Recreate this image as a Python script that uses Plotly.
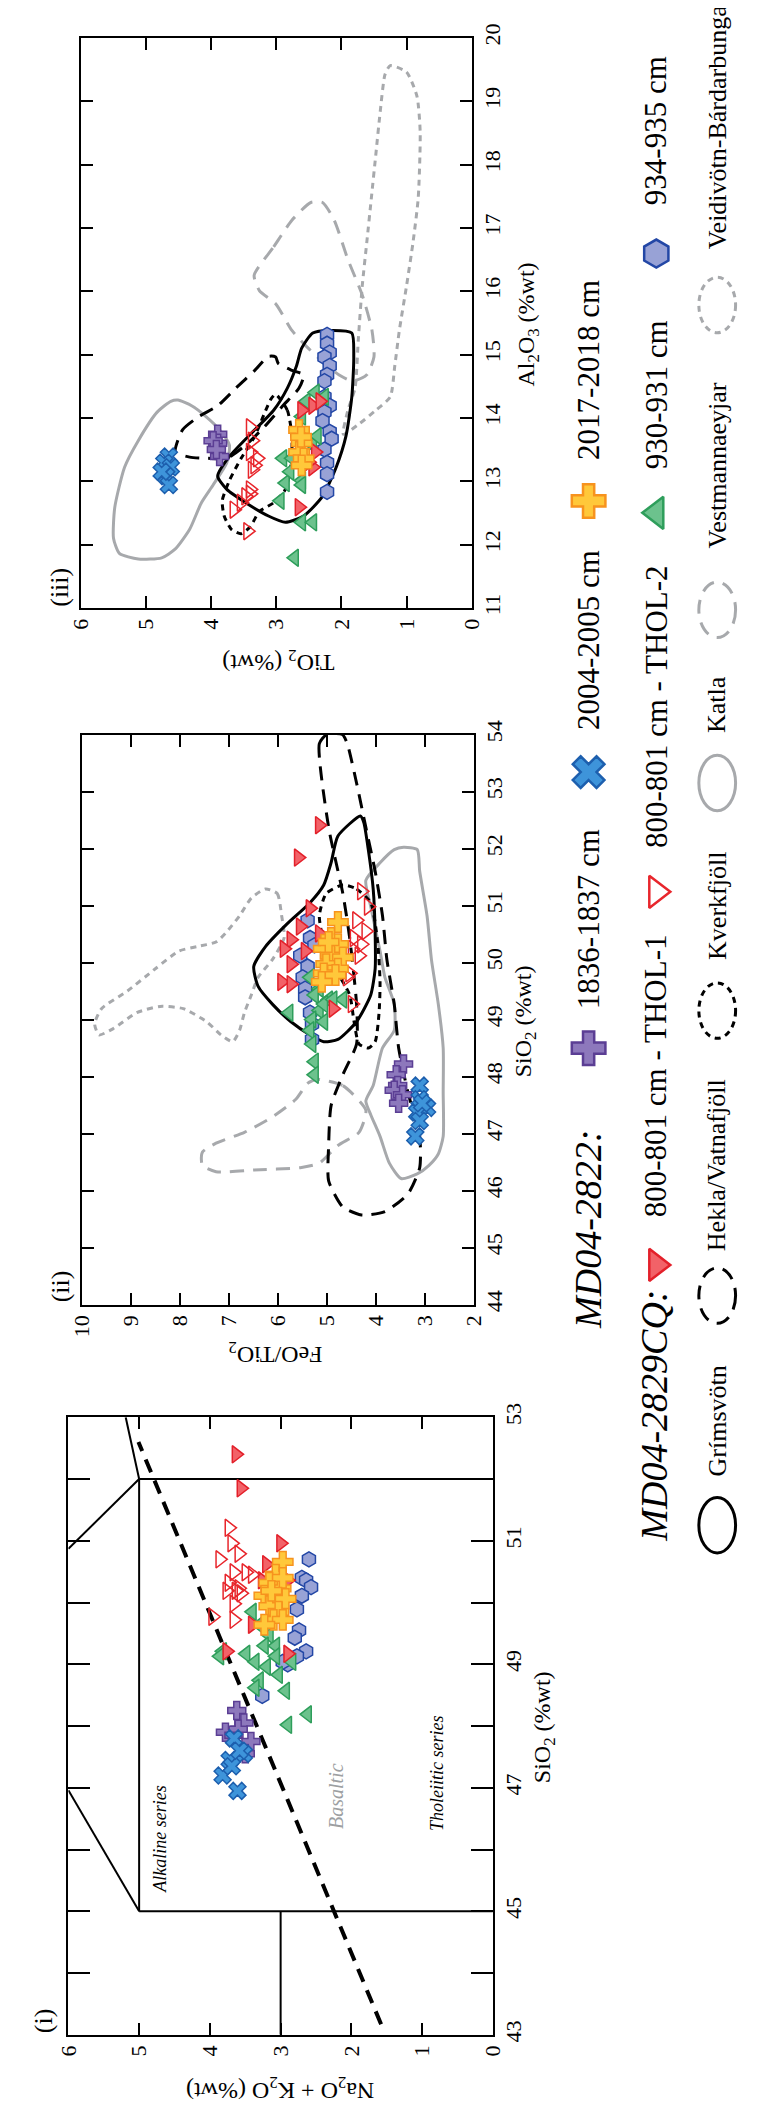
import plotly.graph_objects as go

W, H = 757, 2112
SERIF = "Liberation Serif"

# ---------------- Panel (i): SiO2 vs Na2O+K2O ----------------
p1_1836_si = [48.25, 48.05, 47.9, 47.85, 47.75, 47.55, 47.95]
p1_1836_alk = [3.62, 3.52, 3.78, 3.66, 3.42, 3.5, 3.6]
p1_2004_si = [47.8, 47.45, 47.55, 47.2, 47.35, 46.95, 47.6]
p1_2004_alk = [3.66, 3.72, 3.52, 3.82, 3.69, 3.61, 3.58]
p1_thol1_si = [52.4, 51.85, 50.96, 50.62, 50.36, 50.36, 49.64, 49.17, 49.21]
p1_thol1_alk = [3.63, 3.56, 3.0, 3.2, 2.9, 3.26, 3.4, 2.9, 3.76]
p1_thol2_si = [51.21, 50.96, 50.79, 50.70, 50.49, 50.49, 50.45, 50.32, 50.23, 50.19, 50.19, 50.15, 49.98, 49.77, 49.72]
p1_thol2_alk = [3.73, 3.69, 3.59, 3.86, 3.66, 3.49, 3.40, 3.73, 3.59, 3.76, 3.63, 3.56, 3.66, 3.96, 3.66]
p1_930_si = [49.85, 49.64, 49.47, 49.30, 49.21, 49.17, 49.04, 48.96, 48.83, 49.04, 48.74, 48.62, 48.57, 48.02, 48.19, 49.13, 49.30, 49.13]
p1_930_alk = [3.4, 3.30, 3.16, 3.07, 3.82, 3.49, 3.36, 3.20, 3.03, 2.84, 3.30, 3.36, 2.93, 2.90, 2.62, 3.86, 3.23, 3.07]
p1_2017_si = [50.66, 50.45, 50.32, 50.23, 50.11, 50.06, 50.06, 49.94, 49.85, 49.72, 49.72, 49.64, 50.40, 50.19]
p1_2017_alk = [2.97, 3.07, 3.16, 3.0, 3.23, 3.07, 2.93, 3.16, 3.03, 3.10, 2.97, 3.23, 2.97, 3.13]
p1_934_si = [50.70, 50.40, 50.36, 50.25, 50.11, 49.89, 49.55, 49.43, 49.21, 49.13, 49.0, 48.49, 49.04]
p1_934_alk = [2.60, 2.70, 2.64, 2.57, 2.70, 2.77, 2.74, 2.80, 2.64, 2.77, 2.90, 3.26, 2.97]

# TAS boundary segments (None separates segments)
tas_si = [45, 52, None, 45, 45, None, 52, 52, None, 43, 45, None, 45, 46.96, None, 52, 50.87, None, 52, 53]
tas_alk = [5, 5, None, 0, 5, None, 0, 5, None, 3, 3, None, 5, 6, None, 5, 6, None, 5, 5.19]
# alkaline / tholeiitic divide
div_si = [43.17, 52.6]
div_alk = [1.58, 5.01]

# ---------------- Panel (ii): SiO2 vs FeO/TiO2 ----------------
p2_1836_si = [48.22, 48.03, 47.84, 47.76, 47.68, 47.53]
p2_1836_f = [3.43, 3.58, 3.55, 3.62, 3.45, 3.53]
p2_2004_si = [47.84, 47.60, 47.45, 47.37, 47.22, 46.95, 47.53]
p2_2004_f = [3.10, 3.10, 2.95, 3.15, 3.10, 3.19, 3.05]
p2_thol1_si = [52.41, 51.84, 50.95, 50.51, 50.63, 50.40, 50.24, 50.20, 49.97, 49.66, 49.62, 49.19]
p2_thol1_f = [5.15, 5.58, 5.34, 5.15, 5.54, 5.73, 5.87, 5.44, 5.73, 5.92, 5.73, 4.87]
p2_thol2_si = [51.25, 50.98, 50.74, 50.55, 50.43, 50.32, 50.24, 50.12, 49.81, 49.27, 49.74]
p2_thol2_f = [4.29, 4.15, 4.39, 4.20, 4.44, 4.29, 4.48, 4.34, 4.53, 4.48, 4.58]
p2_930_si = [49.74, 49.54, 49.43, 49.35, 49.35, 49.12, 49.16, 49.0, 48.96, 48.81, 48.57, 48.26, 48.03, 49.27, 49.35]
p2_930_f = [5.34, 5.15, 5.25, 4.96, 4.67, 5.77, 5.15, 5.30, 5.06, 5.34, 5.30, 5.25, 5.25, 5.06, 4.87]
p2_2017_si = [50.71, 50.43, 50.32, 50.24, 50.12, 50.09, 49.97, 49.89, 49.81, 49.78, 49.66, 50.36]
p2_2017_f = [4.77, 4.91, 4.77, 5.06, 4.91, 4.67, 5.01, 4.77, 5.06, 4.82, 5.10, 4.96]
p2_934_si = [50.74, 50.43, 50.12, 49.93, 49.74, 49.54, 49.39, 49.12, 48.92, 48.65, 50.3]
p2_934_f = [5.39, 5.34, 5.54, 5.39, 5.49, 5.44, 5.44, 5.34, 5.30, 5.30, 5.25]

p2_grims_si = [52.57, 52.22, 51.75, 51.36, 51.05, 50.67, 50.28, 49.93, 49.58, 49.27, 48.96, 48.73, 48.61, 48.65, 48.96, 49.43, 49.89, 50.51, 51.29, 51.98, 52.45]
p2_grims_f = [4.31, 4.77, 4.91, 5.06, 5.34, 5.82, 6.25, 6.49, 6.40, 6.11, 5.73, 5.34, 5.06, 4.77, 4.39, 4.10, 4.01, 4.01, 4.05, 4.15, 4.24]
p2_hekla_si = [54.0, 53.84, 52.37, 51.21, 50.43, 49.27, 48.57, 48.03, 47.49, 46.79, 46.17, 45.71, 45.57, 45.63, 45.94, 46.40, 46.95, 47.72, 48.50, 49.27, 50.05, 50.82, 51.60, 52.37, 53.15, 53.84, 54.0]
p2_hekla_f = [5.0, 5.15, 4.96, 4.67, 4.53, 4.39, 4.39, 4.67, 4.91, 4.96, 4.96, 4.67, 4.29, 3.81, 3.34, 3.10, 3.10, 3.34, 3.53, 3.62, 3.77, 3.86, 4.01, 4.20, 4.39, 4.58, 4.68]
p2_kverk_si = [51.36, 51.29, 51.05, 50.36, 49.66, 49.12, 48.61, 48.50, 48.57, 48.96, 49.43, 49.89, 50.36, 50.82, 51.21]
p2_kverk_f = [4.67, 4.39, 4.10, 3.96, 3.91, 3.93, 4.01, 4.15, 4.34, 4.44, 4.53, 4.82, 5.06, 5.15, 5.01]
p2_katla_si = [52.02, 51.98, 51.60, 50.82, 50.05, 49.27, 48.50, 47.72, 46.95, 46.64, 46.44, 46.29, 46.21, 46.48, 46.95, 47.33, 47.57, 47.84, 48.50, 48.81, 49.27, 49.74, 50.20, 50.98, 51.44, 51.75, 51.98]
p2_katla_f = [3.43, 3.15, 3.10, 2.95, 2.86, 2.72, 2.62, 2.62, 2.62, 2.72, 2.91, 3.15, 3.48, 3.72, 3.91, 4.10, 4.20, 4.05, 3.86, 3.62, 3.62, 3.81, 3.91, 4.10, 4.20, 3.91, 3.62]
p2_vestm_si = [47.95, 47.84, 47.41, 47.02, 46.79, 46.48, 46.40, 46.36, 46.33, 46.44, 46.67, 46.83, 47.02, 47.29, 47.60, 47.88]
p2_vestm_f = [5.20, 4.67, 4.20, 4.34, 4.77, 5.15, 5.54, 6.49, 7.26, 7.54, 7.54, 7.26, 6.68, 6.11, 5.63, 5.39]
p2_veidi_si = [51.29, 51.21, 50.82, 50.43, 50.05, 49.74, 49.43, 49.12, 48.81, 48.61, 48.73, 48.96, 49.19, 49.23, 49.12, 48.84, 48.73, 48.92, 49.19, 49.50, 49.89, 50.20, 50.28, 50.36, 50.51, 50.82, 51.13]
p2_veidi_f = [6.25, 6.01, 5.92, 5.87, 6.11, 6.40, 6.54, 6.68, 6.78, 6.92, 7.16, 7.45, 7.93, 8.40, 8.88, 9.36, 9.65, 9.74, 9.60, 9.07, 8.50, 8.02, 7.64, 7.26, 7.07, 6.78, 6.54]

# ---------------- Panel (iii): Al2O3 vs TiO2 ----------------
p3_1836_al = [13.74, 13.60, 13.64, 13.39, 13.5]
p3_1836_ti = [3.90, 3.90, 3.97, 3.87, 3.92]
p3_2004_al = [13.39, 13.29, 13.22, 13.08, 12.94, 13.15]
p3_2004_ti = [4.65, 4.72, 4.62, 4.69, 4.65, 4.76]
p3_thol1_al = [12.59, 13.22, 13.46, 14.19, 14.26, 14.12, 13.3]
p3_thol1_ti = [2.65, 2.44, 2.40, 2.44, 2.33, 2.61, 2.5]
p3_thol2_al = [13.85, 13.64, 13.46, 13.25, 13.18, 13.36, 12.87, 12.76, 12.66, 12.55, 12.21, 12.80]
p3_thol2_ti = [3.40, 3.37, 3.40, 3.33, 3.37, 3.29, 3.40, 3.47, 3.54, 3.65, 3.44, 3.40]
p3_930_al = [11.79, 12.69, 12.97, 13.01, 13.15, 12.94, 13.36, 13.36, 13.57, 13.71, 14.02, 14.26, 14.40, 14.33, 12.35, 12.35]
p3_930_ti = [2.72, 2.94, 2.86, 2.61, 2.79, 2.61, 2.90, 2.76, 2.44, 2.37, 2.61, 2.54, 2.40, 2.26, 2.61, 2.44]
p3_2017_al = [13.81, 13.60, 13.46, 13.36, 13.25, 13.7]
p3_2017_ti = [2.65, 2.61, 2.65, 2.58, 2.61, 2.62]
p3_934_al = [15.31, 15.17, 15.03, 14.96, 14.82, 14.68, 14.58, 14.33, 14.19, 14.09, 13.95, 13.78, 13.67, 13.50, 13.29, 13.11, 12.83]
p3_934_ti = [2.22, 2.22, 2.18, 2.26, 2.18, 2.22, 2.26, 2.26, 2.18, 2.26, 2.29, 2.18, 2.15, 2.26, 2.22, 2.22, 2.22]

p3_grims_al = [15.10, 15.34, 15.38, 15.34, 14.96, 14.33, 13.71, 13.22, 12.76, 12.45, 12.35, 12.45, 12.66, 12.87, 13.08, 13.39, 13.74, 14.12, 14.47, 14.82]
p3_grims_ti = [2.61, 2.44, 2.18, 1.84, 1.81, 1.84, 1.93, 2.08, 2.29, 2.58, 2.86, 3.12, 3.47, 3.76, 3.90, 3.72, 3.40, 3.04, 2.83, 2.69]
p3_hekla_al = [13.46, 13.81, 14.02, 14.19, 14.47, 14.75, 14.97, 14.96, 14.86, 14.75, 14.68, 14.47, 14.19, 13.85, 13.57, 13.36, 13.36, 13.38]
p3_hekla_ti = [4.55, 4.44, 4.19, 3.90, 3.62, 3.33, 3.12, 3.01, 2.97, 2.76, 2.58, 2.65, 2.90, 3.19, 3.47, 3.76, 4.05, 4.33]
p3_kverk_al = [14.37, 14.12, 13.71, 13.29, 12.87, 12.66, 12.52, 12.28, 12.17, 12.24, 12.45, 12.69, 13.01, 13.36, 13.71, 14.05, 14.30]
p3_kverk_ti = [3.01, 2.83, 2.76, 2.77, 2.86, 3.04, 3.26, 3.40, 3.54, 3.69, 3.80, 3.83, 3.72, 3.54, 3.33, 3.19, 3.08]
p3_katla_al = [14.28, 14.19, 14.02, 13.81, 13.57, 13.29, 12.94, 12.66, 12.24, 11.93, 11.79, 11.77, 11.86, 12.10, 12.59, 13.22, 13.64, 14.09, 14.26]
p3_katla_ti = [4.51, 4.30, 4.08, 3.87, 3.72, 3.76, 3.97, 4.15, 4.33, 4.55, 4.76, 5.12, 5.41, 5.50, 5.48, 5.33, 5.12, 4.83, 4.62]
p3_vestm_al = [16.25, 16.70, 17.12, 17.40, 17.40, 17.12, 16.50, 15.94, 15.38, 14.96, 14.68, 14.58, 14.68, 14.86, 15.10, 15.38, 15.80, 16.01]
p3_vestm_ti = [3.34, 3.04, 2.76, 2.47, 2.29, 2.11, 1.90, 1.68, 1.53, 1.50, 1.61, 1.83, 2.04, 2.26, 2.51, 2.76, 3.01, 3.26]
p3_veidi_al = [19.56, 19.46, 19.08, 18.52, 17.47, 16.77, 16.08, 15.38, 14.82, 14.33, 14.12, 13.91, 13.74, 14.12, 14.47, 15.24, 16.08, 16.77, 17.47, 18.17, 18.87, 19.42]
p3_veidi_ti = [1.25, 1.0, 0.84, 0.79, 0.82, 0.90, 1.0, 1.11, 1.18, 1.25, 1.47, 1.72, 1.97, 1.90, 1.79, 1.74, 1.68, 1.61, 1.54, 1.47, 1.40, 1.33]

# ---------------- tick labels ----------------
p1_alk_ticks = [0, 1, 2, 3, 4, 5, 6]
p1_si_ticks = [43, 44, 45, 46, 47, 48, 49, 50, 51, 52, 53]
p1_si_text = ["43", " ", "45", " ", "47", " ", "49", " ", "51", " ", "53"]
p2_f_ticks = [2, 3, 4, 5, 6, 7, 8, 9, 10]
p2_si_ticks = [44, 45, 46, 47, 48, 49, 50, 51, 52, 53, 54]
p3_ti_ticks = [0, 1, 2, 3, 4, 5, 6]
p3_al_ticks = [11, 12, 13, 14, 15, 16, 17, 18, 19, 20]

# ---------------- styles ----------------
GRAY = "#A7A9AC"
DASH = "14px,9px"
DOT = "6px,5px"
SER = {
    "1836": dict(symbol="cross", color="#8D78BC", line="#5B3E94"),
    "2004": dict(symbol="x", color="#3E94DA", line="#1D5FAE"),
    "thol1": dict(symbol="triangle-right", color="#F26268", line="#E3202A"),
    "thol2": dict(symbol="triangle-right-open", color="#E8262C", line="#E8262C"),
    "930": dict(symbol="triangle-left", color="#6CC28D", line="#2E9E5B"),
    "2017": dict(symbol="cross", color="#FFC83A", line="#F7931E"),
    "934": dict(symbol="hexagon", color="#98A2D6", line="#2347A6"),
}
FIELD = {
    "grims": dict(color="black", dash="solid"),
    "hekla": dict(color="black", dash=DASH),
    "kverk": dict(color="black", dash=DOT),
    "katla": dict(color=GRAY, dash="solid"),
    "vestm": dict(color=GRAY, dash=DASH),
    "veidi": dict(color=GRAY, dash=DOT),
}

fig = go.Figure()


def closed(a):
    return list(a) + [a[0]]


def field(x, y, key, xa, ya):
    st = FIELD[key]
    fig.add_trace(go.Scatter(x=closed(x), y=closed(y), mode="lines", xaxis=xa, yaxis=ya,
                             line=dict(color=st["color"], width=3, dash=st["dash"], shape="spline", smoothing=0.6),
                             hoverinfo="skip"))


def pts(x, y, key, xa, ya, size=15):
    st = SER[key]
    fig.add_trace(go.Scatter(x=x, y=y, mode="markers", xaxis=xa, yaxis=ya,
                             marker=dict(symbol=st["symbol"], size=size, color=st["color"],
                                         line=dict(color=st["line"], width=1.5))))


# panel (i)
fig.add_trace(go.Scatter(x=tas_alk, y=tas_si, mode="lines", xaxis="x", yaxis="y",
                         line=dict(color="black", width=2), connectgaps=False, hoverinfo="skip"))
fig.add_trace(go.Scatter(x=div_alk, y=div_si, mode="lines", xaxis="x", yaxis="y",
                         line=dict(color="black", width=4, dash="14px,9px"), hoverinfo="skip"))
pts(p1_934_alk, p1_934_si, "934", "x", "y")
pts(p1_930_alk, p1_930_si, "930", "x", "y")
pts(p1_thol1_alk, p1_thol1_si, "thol1", "x", "y")
pts(p1_thol2_alk, p1_thol2_si, "thol2", "x", "y")
pts(p1_1836_alk, p1_1836_si, "1836", "x", "y")
pts(p1_2004_alk, p1_2004_si, "2004", "x", "y")
pts(p1_2017_alk, p1_2017_si, "2017", "x", "y", size=17)

# panel (ii)
field(p2_veidi_f, p2_veidi_si, "veidi", "x2", "y2")
field(p2_vestm_f, p2_vestm_si, "vestm", "x2", "y2")
field(p2_katla_f, p2_katla_si, "katla", "x2", "y2")
field(p2_hekla_f, p2_hekla_si, "hekla", "x2", "y2")
field(p2_kverk_f, p2_kverk_si, "kverk", "x2", "y2")
field(p2_grims_f, p2_grims_si, "grims", "x2", "y2")
pts(p2_934_f, p2_934_si, "934", "x2", "y2")
pts(p2_930_f, p2_930_si, "930", "x2", "y2")
pts(p2_thol1_f, p2_thol1_si, "thol1", "x2", "y2")
pts(p2_thol2_f, p2_thol2_si, "thol2", "x2", "y2")
pts(p2_1836_f, p2_1836_si, "1836", "x2", "y2")
pts(p2_2004_f, p2_2004_si, "2004", "x2", "y2")
pts(p2_2017_f, p2_2017_si, "2017", "x2", "y2", size=17)

# panel (iii)
field(p3_veidi_ti, p3_veidi_al, "veidi", "x3", "y3")
field(p3_vestm_ti, p3_vestm_al, "vestm", "x3", "y3")
field(p3_katla_ti, p3_katla_al, "katla", "x3", "y3")
field(p3_hekla_ti, p3_hekla_al, "hekla", "x3", "y3")
field(p3_kverk_ti, p3_kverk_al, "kverk", "x3", "y3")
field(p3_grims_ti, p3_grims_al, "grims", "x3", "y3")
pts(p3_934_ti, p3_934_al, "934", "x3", "y3")
pts(p3_930_ti, p3_930_al, "930", "x3", "y3")
pts(p3_thol1_ti, p3_thol1_al, "thol1", "x3", "y3")
pts(p3_thol2_ti, p3_thol2_al, "thol2", "x3", "y3")
pts(p3_1836_ti, p3_1836_al, "1836", "x3", "y3")
pts(p3_2004_ti, p3_2004_al, "2004", "x3", "y3")
pts(p3_2017_ti, p3_2017_al, "2017", "x3", "y3", size=17)

# ---------------- legend (pixel-space overlay axes x4/y4) ----------------
leg_series = [("1836", 587, 1037, "1836-1837 cm", 907),
              ("2004", 587, 758, "2004-2005 cm", 625),
              ("2017", 587, 484, "2017-2018 cm", 352),
              ("thol1", 657, 1256, "800-801 cm - THOL-1", 1065),
              ("thol2", 657, 879, "800-801 cm - THOL-2", 692),
              ("930", 657, 496, "930-931 cm", 377),
              ("934", 657, 234, "934-935 cm", 110)]
annotations = []
for key, lx, ly, label, ty in leg_series:
    st = SER[key]
    fig.add_trace(go.Scatter(x=[lx], y=[ly], mode="markers", xaxis="x4", yaxis="y4",
                             marker=dict(symbol=st["symbol"], size=28, color=st["color"],
                                         line=dict(color=st["line"], width=2.5))))
    annotations.append(dict(x=lx, y=ty, xref="x4", yref="y4", text=label, textangle=-90,
                            showarrow=False, xanchor="center", yanchor="middle",
                            font=dict(family=SERIF, size=31, color="black")))

annotations.append(dict(x=587, y=1220, xref="x4", yref="y4", text="<i>MD04-2822:</i>", textangle=-90,
                        showarrow=False, font=dict(family=SERIF, size=38, color="black")))
annotations.append(dict(x=655, y=1408, xref="x4", yref="y4", text="<i>MD04-2829CQ:</i>", textangle=-90,
                        showarrow=False, font=dict(family=SERIF, size=38, color="black")))

shapes = []
leg_fields = [("grims", 1519, "Grímsvötn", 1414),
              ("hekla", 1287, "Hekla/Vatnafjöll", 1155),
              ("kverk", 999, "Kverkfjöll", 893),
              ("katla", 769, "Katla", 690),
              ("vestm", 594, "Vestmannaeyjar", 448)]
for key, cy, label, ty in leg_fields:
    st = FIELD[key]
    shapes.append(dict(type="circle", xref="x4", yref="y4", x0=701, x1=739, y0=cy - 28, y1=cy + 28,
                       line=dict(color=st["color"], width=3, dash=st["dash"])))
    annotations.append(dict(x=720, y=ty, xref="x4", yref="y4", text=label, textangle=-90,
                            showarrow=False, font=dict(family=SERIF, size=26, color="black")))
shapes.append(dict(type="circle", xref="x4", yref="y4", x0=701, x1=739, y0=286 - 28, y1=286 + 28,
                   line=dict(color=GRAY, width=3, dash=DOT)))
annotations.append(dict(x=720, y=232, xref="x4", yref="y4", text="Veidivötn-Bárdarbunga", textangle=-90,
                        showarrow=False, xanchor="center", yanchor="bottom",
                        font=dict(family=SERIF, size=26, color="black")))


# axis titles and panel labels
def lab(x, y, text, ang, size=24, color="black"):
    annotations.append(dict(x=x, y=y, xref="x4", yref="y4", text=text, textangle=ang, showarrow=False,
                            font=dict(family=SERIF, size=size, color=color)))


lab(541, 1723, "SiO<sub>2</sub> (%wt)", -90)
lab(522, 1010, "SiO<sub>2</sub> (%wt)", -90)
lab(524, 306, "Al<sub>2</sub>O<sub>3</sub> (%wt)", -90)
lab(268, 2088, "Na<sub>2</sub>O + K<sub>2</sub>O (%wt)", 180)
lab(263, 1345, "FeO/TiO<sub>2</sub>", 180)
lab(266, 645, "TiO<sub>2</sub> (%wt)", 180)
lab(24, 2020, "(i)", -90, size=26)
lab(41, 1278, "(ii)", -90, size=26)
lab(39, 571, "(iii)", -90, size=26)

# in-plot labels of panel (i)
for txt, ax, ay, col, sz in [("Alkaline series", 4.71, 46.17, "black", 18),
                             ("Basaltic", 2.21, 46.86, "#9D9FA2", 20),
                             ("Tholeiitic series", 0.79, 47.24, "black", 18)]:
    annotations.append(dict(x=ax, y=ay, xref="x", yref="y", text="<i>%s</i>" % txt, textangle=-90,
                            showarrow=False, font=dict(family=SERIF, size=sz, color=col)))


def px(v):
    return v / W


def py(v):
    return 1 - v / H


def xax(dom, rng, tv, tt, tl, anchor):
    return dict(domain=dom, range=rng, anchor=anchor, tickmode="array", tickvals=tv, ticktext=tt,
                ticks="inside", ticklen=tl, tickwidth=2, tickcolor="black", showline=True,
                linecolor="black", linewidth=2, mirror="ticks", showgrid=False, zeroline=False,
                tickangle=-90, side="bottom", fixedrange=True,
                tickfont=dict(family=SERIF, size=22, color="black"))


def yax(dom, rng, tv, tt, tl, anchor):
    d = xax(dom, rng, tv, tt, tl, anchor)
    d["side"] = "right"
    return d


fig.update_layout(
    width=W, height=H, margin=dict(l=0, r=0, t=0, b=0),
    paper_bgcolor="white", plot_bgcolor="rgba(0,0,0,0)", showlegend=False,
    xaxis=xax([px(49), px(488)], [6, 0], p1_alk_ticks, [str(v) for v in p1_alk_ticks], 12, "y"),
    yaxis=yax([py(2034), py(1410)], [43, 53], p1_si_ticks, p1_si_text, 22, "x"),
    xaxis2=xax([px(63), px(468)], [10, 2], p2_f_ticks, [str(v) for v in p2_f_ticks], 12, "y2"),
    yaxis2=yax([py(1296), py(720)], [44, 54], p2_si_ticks, [str(v) for v in p2_si_ticks], 12, "x2"),
    xaxis3=xax([px(62), px(466)], [6, 0], p3_ti_ticks, [str(v) for v in p3_ti_ticks], 12, "y3"),
    yaxis3=yax([py(592), py(16)], [11, 20], p3_al_ticks, [str(v) for v in p3_al_ticks], 12, "x3"),
    xaxis4=dict(domain=[0, 1], range=[0, W], visible=False, anchor="y4", fixedrange=True),
    yaxis4=dict(domain=[0, 1], range=[H, 0], visible=False, anchor="x4", fixedrange=True),
    annotations=annotations, shapes=shapes,
)

fig.write_html("out.html")
